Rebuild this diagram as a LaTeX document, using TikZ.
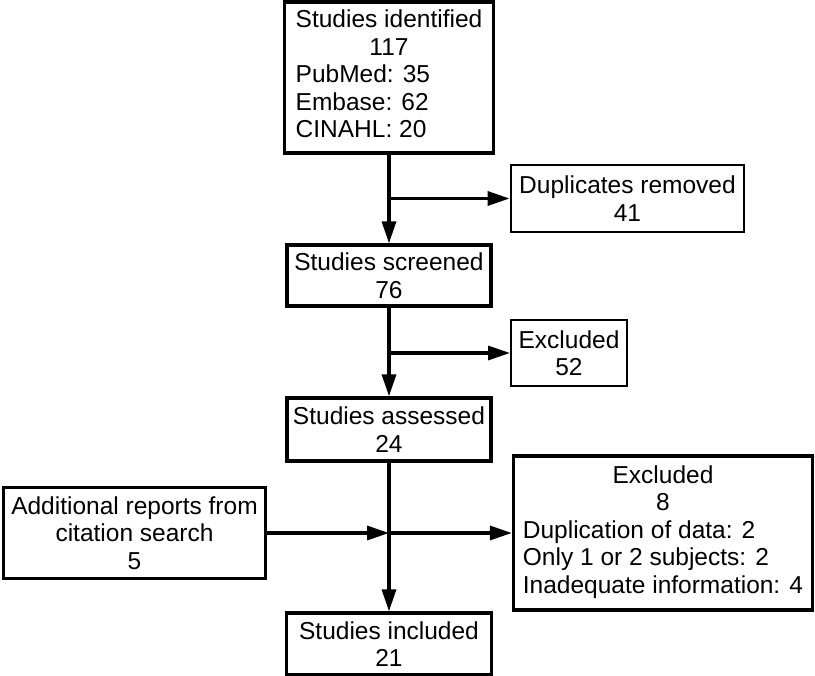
\documentclass[tikz,border=0pt]{standalone}
\usepackage{fontspec}
\setmainfont{Liberation Sans}
\usetikzlibrary{arrows.meta}
\newcommand{\ctr}[1]{\multicolumn{1}{@{}c@{}}{#1}}
\begin{document}
\begin{tikzpicture}[line join=miter,>={Triangle[length=22pt,width=14pt]},x=1pt,y=-1pt,
  flowbox/.style={draw,line width=3.3pt,inner sep=0pt,align=center,font=\fontsize{24.5}{27.5}\selectfont},
  thinbox/.style={flowbox,line width=2pt},
  flow/.style={->,line width=3.3pt}]
\useasboundingbox (0,0) rectangle (815,676);
\node[flowbox,minimum width=209pt,minimum height=151pt] (ident) at (389,77.5) {\begin{tabular}{@{}l@{}}\ctr{Studies identified}\\ \ctr{117}\\ PubMed: 35\\ Embase: 62\\ CINAHL: 20\end{tabular}};
\node[flowbox,line width=2.8pt,minimum width=233pt,minimum height=67pt] (dup) at (627.5,198.5) {Duplicates removed\\41};
\node[flowbox,minimum width=204pt,minimum height=61pt] (screened) at (389,275.5) {Studies screened\\76};
\node[thinbox,minimum width=116pt,minimum height=66pt] (excl1) at (569,353) {Excluded\\52};
\node[flowbox,minimum width=204pt,minimum height=63pt] (assessed) at (389,429.5) {Studies assessed\\24};
\node[flowbox,minimum width=262pt,minimum height=91pt] (extra) at (134.5,533) {Additional reports from\\citation search\\5};
\node[flowbox,minimum width=299pt,minimum height=154pt] (excl2) at (663,533) {\begin{tabular}{@{}l@{}}\ctr{Excluded}\\ \ctr{8}\\ Duplication of data: 2\\ Only 1 or 2 subjects: 2\\ Inadequate information: 4\end{tabular}};
\node[flowbox,minimum width=205pt,minimum height=62pt] (included) at (389,644) {Studies included\\21};
% branch points on the main line
\coordinate (b1) at (389,198.5);
\coordinate (b2) at (389,353);
\coordinate (b3) at (389,533);
\draw[flow] (ident) -- (screened);
\draw[flow] (b1) -- (dup);
\draw[flow] (screened) -- (assessed);
\draw[flow] (b2) -- (excl1);
\draw[flow] (assessed) -- (included);
\draw[flow] (extra) -- (b3);
\draw[flow] (b3) -- (excl2);
\end{tikzpicture}
\end{document}
